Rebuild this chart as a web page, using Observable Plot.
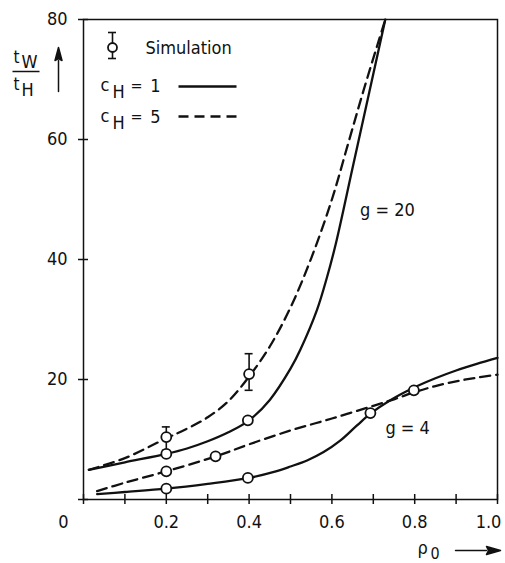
<!DOCTYPE html>
<html><head><meta charset="utf-8">
<script src="https://cdn.jsdelivr.net/npm/d3@7"></script>
<script src="https://cdn.jsdelivr.net/npm/@observablehq/plot@0.6"></script>
<style>
html,body{margin:0;padding:0;background:#fff;}
#chart svg{display:block;}
</style></head>
<body><div id="chart"></div>
<script>
const FONT = "'DejaVu Sans Condensed','DejaVu Sans',sans-serif";

// ---- data ----
// g = 20, c_H = 1 (solid)
const g20c1Rho = [0.013, 0.1, 0.2, 0.25, 0.3, 0.35, 0.4, 0.45, 0.5, 0.524, 0.564, 0.588, 0.609, 0.65, 0.69, 0.729];
const g20c1T   = [4.95, 6.2, 7.6, 8.5, 9.7, 11.2, 13.2, 16.6, 21.8, 25.0, 31.6, 37.0, 42.5, 55.3, 67.8, 80];
// g = 20, c_H = 5 (dashed)
const g20c5Rho = [0.013, 0.1, 0.2, 0.25, 0.3, 0.35, 0.4, 0.45, 0.5, 0.55, 0.6, 0.64, 0.68, 0.729];
const g20c5T   = [4.95, 6.9, 10.2, 11.8, 13.7, 16.4, 20.5, 25.5, 32.0, 40.2, 50.0, 59.5, 69.0, 80];
// g = 4, c_H = 1 (solid)
const g4c1Rho = [0.033, 0.1, 0.2, 0.3, 0.4, 0.46, 0.5, 0.54, 0.58, 0.62, 0.66, 0.693, 0.74, 0.8, 0.85, 0.9, 0.95, 1.0];
const g4c1T   = [0.9, 1.25, 1.8, 2.6, 3.6, 4.6, 5.5, 6.5, 7.9, 9.8, 12.3, 14.3, 16.5, 18.7, 20.2, 21.5, 22.6, 23.6];
// g = 4, c_H = 5 (dashed)
const g4c5Rho = [0.033, 0.1, 0.2, 0.32, 0.4, 0.5, 0.6, 0.7, 0.75, 0.8, 0.85, 0.9, 0.95, 1.0];
const g4c5T   = [1.4, 2.8, 4.7, 7.2, 9.2, 11.5, 13.5, 15.6, 16.7, 17.9, 18.9, 19.7, 20.3, 20.8];

// simulation points
const simRho = [0.2, 0.4, 0.2, 0.397, 0.2, 0.319, 0.798, 0.2, 0.397, 0.693];
const simT   = [10.4, 20.9, 7.6, 13.2, 4.7, 7.2, 18.2, 1.8, 3.6, 14.4];
const simLo  = [8.2, 18.2, null, null, null, null, null, null, null, null];
const simHi  = [12.1, 24.3, null, null, null, null, null, null, null, null];

// curve labels
const curveLabels = ["g = 20", "g = 4"];
const curveLabelRho = [0.734, 0.783];
const curveLabelT = [48.2, 11.8];

// ticks
const xTicks = [0, 0.1, 0.2, 0.3, 0.4, 0.5, 0.6, 0.7, 0.8, 0.9, 1.0];
const xTickLabels = [0.2, 0.4, 0.6, 0.8];
const xLastTickLabel = [1.0];
const yTicks = [0, 20, 40, 60, 80];
const yTickLabels = [20, 40, 60, 80];

// ---- layout ----
const W = 505, H = 563;
const M = {top: 19, right: 8, bottom: 64, left: 83};
const pxX = px => (px - M.left) / (W - M.left - M.right);
const pxY = py => 80 * (H - M.bottom - py) / (H - M.top - M.bottom);

const series = [
  {key: "g20c1", dashed: false, rho: g20c1Rho, t: g20c1T},
  {key: "g20c5", dashed: true,  rho: g20c5Rho, t: g20c5T},
  {key: "g4c1",  dashed: false, rho: g4c1Rho,  t: g4c1T},
  {key: "g4c5",  dashed: true,  rho: g4c5Rho,  t: g4c5T}
];
const curveRows = series.flatMap(s => s.rho.map((r, i) => ({key: s.key, dashed: s.dashed, rho: r, t: s.t[i]})));
const simRows = simRho.map((r, i) => ({rho: r, t: simT[i], lo: simLo[i], hi: simHi[i]}));
const errRows = simRows.filter(d => d.lo != null);
const labelRows = curveLabels.map((s, i) => ({text: s, rho: curveLabelRho[i], t: curveLabelT[i]}));

function note(str, px, py, o = {}) {
  return Plot.text([str], {
    text: d => d, frameAnchor: "top-left",
    dx: px - M.left, dy: py - M.top,
    textAnchor: o.anchor || "start", lineAnchor: "bottom",
    fontSize: o.size || 18, fontFamily: FONT, fill: "#111"
  });
}
const arrowShape = (head, wing) => ({
  draw(ctx, l) {
    ctx.moveTo(0, 0); ctx.lineTo(0, -l + head);
    ctx.moveTo(0, -l); ctx.lineTo(-wing, -l + head); ctx.lineTo(0, -l + head - 2); ctx.lineTo(wing, -l + head); ctx.closePath();
  }
});

const ink = "#111";
const plot = Plot.plot({
  width: W, height: H,
  marginTop: M.top, marginRight: M.right, marginBottom: M.bottom, marginLeft: M.left,
  x: {domain: [0, 1]},
  y: {domain: [0, 80]},
  style: {fontFamily: FONT, fontSize: "18px", color: ink, background: "#fff"},
  marks: [
    Plot.frame({stroke: ink, strokeWidth: 1.5}),
    Plot.ruleX(xTicks, {x: d => d, y1: 0, y2: 0, insetTop: -5, insetBottom: -5, stroke: ink, strokeWidth: 1.5}),
    Plot.ruleY(yTicks, {y: d => d, x1: 0, x2: 0, insetLeft: -5, insetRight: -5, stroke: ink, strokeWidth: 1.5}),
    Plot.axisX({ticks: xTickLabels, tickSize: 0, tickPadding: 16, tickFormat: d => d.toFixed(1), label: null, fontSize: 18}),
    Plot.axisX({ticks: xLastTickLabel, tickSize: 0, tickPadding: 16, dx: -9, tickFormat: d => d.toFixed(1), label: null, fontSize: 18}),
    Plot.axisX({ticks: [0], tickSize: 0, tickPadding: 16, dx: -20, tickFormat: d => String(d), label: null, fontSize: 18}),
    Plot.axisY({ticks: yTickLabels, tickSize: 0, tickPadding: 16, label: null, fontSize: 18}),
    Plot.line(curveRows.filter(d => !d.dashed), {x: "rho", y: "t", z: "key", curve: "catmull-rom", stroke: ink, strokeWidth: 2.3}),
    Plot.line(curveRows.filter(d => d.dashed), {x: "rho", y: "t", z: "key", curve: "catmull-rom", stroke: ink, strokeWidth: 2.3, strokeDasharray: "10,6"}),
    Plot.ruleX(errRows, {x: "rho", y1: "lo", y2: "hi", stroke: ink, strokeWidth: 1.6}),
    Plot.ruleY(errRows, {y: "hi", x1: "rho", x2: "rho", insetLeft: -4, insetRight: -4, stroke: ink, strokeWidth: 1.6}),
    Plot.ruleY(errRows, {y: "lo", x1: "rho", x2: "rho", insetLeft: -4, insetRight: -4, stroke: ink, strokeWidth: 1.6}),
    Plot.dot(simRows, {x: "rho", y: "t", r: 5, fill: "white", stroke: ink, strokeWidth: 1.8}),
    Plot.text(labelRows, {x: "rho", y: "t", text: "text", fontSize: 18, fontFamily: FONT, fill: ink}),

    // legend
    Plot.ruleX([0], {x: () => pxX(112), y1: () => pxY(32), y2: () => pxY(58), stroke: ink, strokeWidth: 1.6}),
    Plot.ruleY([0], {y: () => pxY(32), x1: () => pxX(112), x2: () => pxX(112), insetLeft: -4, insetRight: -4, stroke: ink, strokeWidth: 1.6}),
    Plot.ruleY([0], {y: () => pxY(58), x1: () => pxX(112), x2: () => pxX(112), insetLeft: -4, insetRight: -4, stroke: ink, strokeWidth: 1.6}),
    Plot.dot([0], {x: () => pxX(112), y: () => pxY(47), r: 4.5, fill: "white", stroke: ink, strokeWidth: 1.8}),
    note("Simulation", 145, 53),
    note("c", 100, 90),
    note("H", 112, 97),
    note("=", 136, 90, {anchor: "middle", size: 16}),
    note("1", 155, 91, {anchor: "middle"}),
    note("c", 100, 121),
    note("H", 112, 128),
    note("=", 136, 121, {anchor: "middle", size: 16}),
    note("5", 155, 122, {anchor: "middle"}),
    Plot.link([0], {x1: () => pxX(178), x2: () => pxX(236), y1: () => pxY(86), y2: () => pxY(86), stroke: ink, strokeWidth: 2.3}),
    Plot.link([0], {x1: () => pxX(178), x2: () => pxX(236), y1: () => pxY(116), y2: () => pxY(116), stroke: ink, strokeWidth: 2.3, strokeDasharray: "10,6"}),

    // y axis label: t_W / t_H with arrow
    note("t", 13, 62, {size: 17}),
    note("W", 21, 67),
    Plot.link([0], {x1: () => pxX(12), x2: () => pxX(39), y1: () => pxY(71), y2: () => pxY(71), stroke: ink, strokeWidth: 1.5}),
    note("t", 13, 89, {size: 17}),
    note("H", 21, 95),
    Plot.vector([0], {frameAnchor: "top-left", dx: 58 - M.left, dy: 91 - M.top, length: 44, rotate: 0, anchor: "start", shape: arrowShape(13, 3.5), stroke: ink, fill: ink, strokeWidth: 1.5}),

    // x axis label: rho_0 with arrow
    note("ρ", 417, 553),
    note("0", 430, 558, {size: 16}),
    Plot.vector([0], {frameAnchor: "top-left", dx: 455 - M.left, dy: 550 - M.top, length: 45, rotate: 90, anchor: "start", shape: arrowShape(14, 4), stroke: ink, fill: ink, strokeWidth: 1.5})
  ]
});
document.getElementById("chart").appendChild(plot);
</script>
</body></html>
